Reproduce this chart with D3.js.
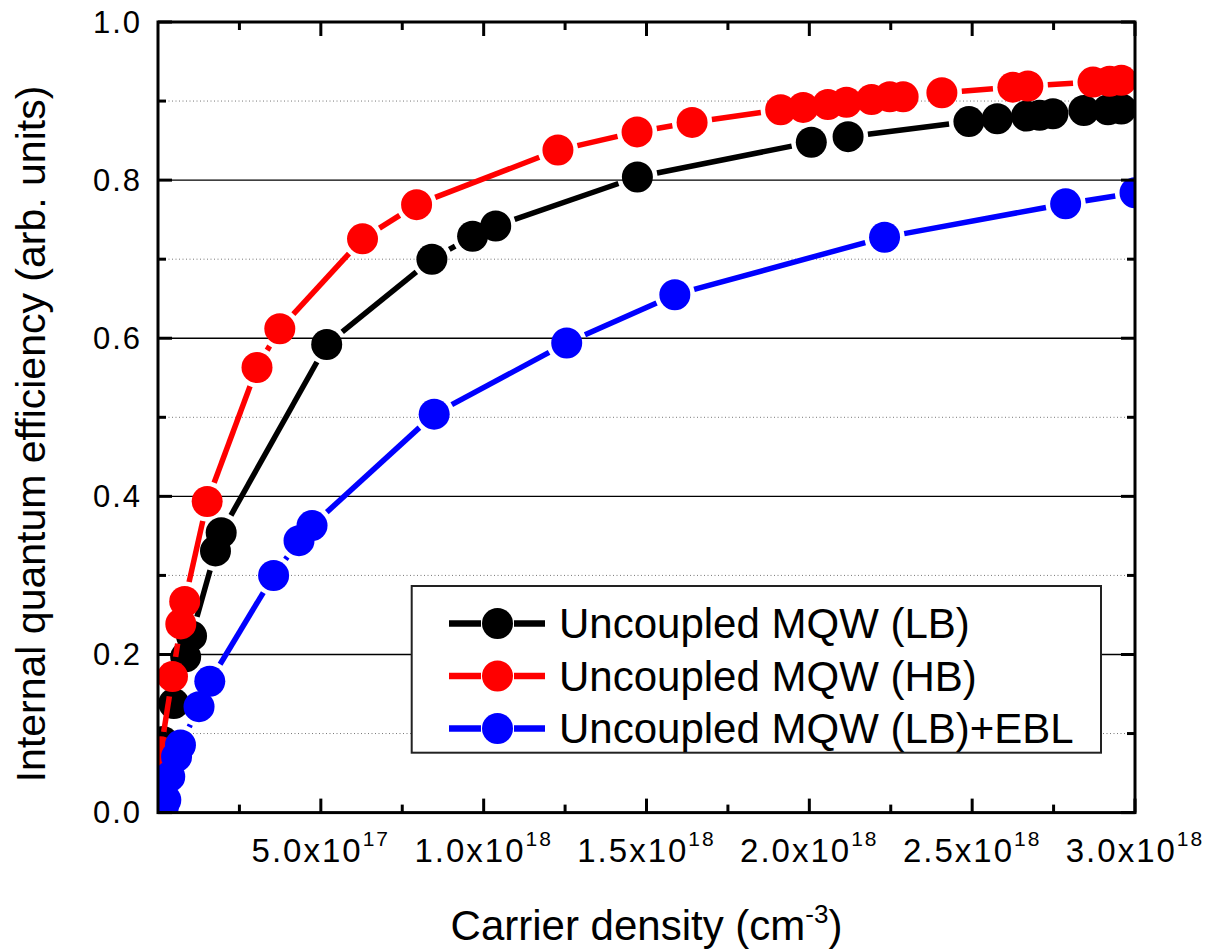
<!DOCTYPE html>
<html>
<head>
<meta charset="utf-8">
<title>Internal quantum efficiency vs carrier density</title>
<style type="text/css">
body { margin: 0; background: #fff; }
svg { display: block; font-family: "Liberation Sans", Arial, sans-serif; }
</style>
<script src="https://cdn.jsdelivr.net/npm/d3@7/dist/d3.min.js"></script>
</head>
<body>
<script type="text/javascript">
// carrier density in units of 1e18 cm^-3, IQE in arb. units
var lbX  = [0.015, 0.0485, 0.085, 0.103, 0.1765, 0.194, 0.518, 0.841, 0.966, 1.037, 1.472, 2.006, 2.119, 2.490, 2.577, 2.667, 2.707, 2.748, 2.843, 2.917, 2.958];
var lbY  = [0.090, 0.138, 0.197, 0.2235, 0.331, 0.354, 0.592, 0.700, 0.729, 0.742, 0.804, 0.848, 0.855, 0.874, 0.8776, 0.881, 0.882, 0.884, 0.888, 0.889, 0.890];
var hbX  = [0.008, 0.0445, 0.070, 0.082, 0.151, 0.304, 0.374, 0.628, 0.794, 1.228, 1.471, 1.640, 1.912, 1.981, 2.057, 2.114, 2.191, 2.247, 2.288, 2.407, 2.625, 2.671, 2.871, 2.922, 2.958];
var hbY  = [0.077, 0.172, 0.2387, 0.267, 0.3935, 0.563, 0.612, 0.7257, 0.769, 0.838, 0.861, 0.873, 0.889, 0.892, 0.8957, 0.8986, 0.902, 0.9054, 0.9054, 0.9105, 0.9176, 0.919, 0.924, 0.925, 0.9263];
var eblX = [0.016, 0.024, 0.036, 0.057, 0.069, 0.126, 0.159, 0.355, 0.433, 0.473, 0.848, 1.255, 1.587, 2.231, 2.787, 3.0];
var eblY = [0.006, 0.016, 0.0455, 0.0708, 0.0856, 0.134, 0.166, 0.300, 0.344, 0.363, 0.504, 0.594, 0.655, 0.7277, 0.770, 0.784];

var seriesNames  = ["Uncoupled MQW (LB)", "Uncoupled MQW (HB)", "Uncoupled MQW (LB)+EBL"];
var seriesColors = ["#000000", "#ff0000", "#0000ff"];

var xMajor = [0.5, 1.0, 1.5, 2.0, 2.5, 3.0];
var xMinor = [0.25, 0.75, 1.25, 1.75, 2.25, 2.75];
var yMajor = [0.0, 0.2, 0.4, 0.6, 0.8, 1.0];
var yMinor = [0.1, 0.3, 0.5, 0.7, 0.9];

var W = 1212, H = 951;
var pLeft = 158, pRight = 1135, pTop = 22, pBottom = 812.6;
var R = 15.5;		// marker radius
var GAP = 20;		// line stops this far from marker centre

var x = d3.scaleLinear().domain([0, 3.0]).range([pLeft, pRight]);
var y = d3.scaleLinear().domain([0, 1.0]).range([pBottom, pTop]);

var svg = d3.select("body").append("svg")
	.attr("width", W)
	.attr("height", H);

svg.append("defs").append("clipPath").attr("id", "plotclip")
	.append("rect")
	.attr("x", pLeft).attr("y", pTop)
	.attr("width", pRight - pLeft).attr("height", pBottom - pTop);

// grid
svg.append("g").selectAll("line").data(yMinor).join("line")
	.attr("x1", pLeft).attr("x2", pRight)
	.attr("y1", d => y(d)).attr("y2", d => y(d))
	.attr("stroke", "#777").attr("stroke-width", 1)
	.attr("stroke-dasharray", "1,2.5");
svg.append("g").selectAll("line").data(yMajor.filter(d => d > 0 && d < 1)).join("line")
	.attr("x1", pLeft).attr("x2", pRight)
	.attr("y1", d => y(d)).attr("y2", d => y(d))
	.attr("stroke", "#000").attr("stroke-width", 1.3);

// series
var plot = svg.append("g").attr("clip-path", "url(#plotclip)");
var allX = [lbX, hbX, eblX], allY = [lbY, hbY, eblY];

allX.forEach(function(xs, s) {
	var pts = xs.map((v, i) => [x(v), y(allY[s][i])]);
	var segs = [];
	for (var i = 0; i < pts.length - 1; i++) {
		var a = pts[i], b = pts[i + 1];
		var dx = b[0] - a[0], dy = b[1] - a[1];
		var len = Math.sqrt(dx * dx + dy * dy);
		if (len <= 2 * GAP) continue;
		var ux = dx / len, uy = dy / len;
		segs.push([a[0] + ux * GAP, a[1] + uy * GAP, b[0] - ux * GAP, b[1] - uy * GAP]);
	}
	var g = plot.append("g");
	g.selectAll("line").data(segs).join("line")
		.attr("x1", d => d[0]).attr("y1", d => d[1])
		.attr("x2", d => d[2]).attr("y2", d => d[3])
		.attr("stroke", seriesColors[s]).attr("stroke-width", 5.5);
	g.selectAll("circle").data(pts).join("circle")
		.attr("cx", d => d[0]).attr("cy", d => d[1]).attr("r", R)
		.attr("fill", seriesColors[s]);
});

// frame and ticks
svg.append("rect")
	.attr("x", pLeft).attr("y", pTop)
	.attr("width", pRight - pLeft).attr("height", pBottom - pTop)
	.attr("fill", "none").attr("stroke", "#000").attr("stroke-width", 3);

var ticks = svg.append("g").attr("stroke", "#000").attr("stroke-width", 3);
function xTicks(vals, len) {
	vals.forEach(function(v) {
		ticks.append("line").attr("x1", x(v)).attr("x2", x(v)).attr("y1", pBottom).attr("y2", pBottom - len);
		ticks.append("line").attr("x1", x(v)).attr("x2", x(v)).attr("y1", pTop).attr("y2", pTop + len);
	});
}
function yTicks(vals, len) {
	vals.forEach(function(v) {
		ticks.append("line").attr("y1", y(v)).attr("y2", y(v)).attr("x1", pLeft).attr("x2", pLeft + len);
		ticks.append("line").attr("y1", y(v)).attr("y2", y(v)).attr("x1", pRight).attr("x2", pRight - len);
	});
}
xTicks(xMajor, 14); xTicks(xMinor, 8);
yTicks(yMajor, 14); yTicks(yMinor, 8);

// y tick labels
svg.append("g").selectAll("text").data(yMajor).join("text")
	.attr("x", 142).attr("y", d => y(d))
	.attr("text-anchor", "end").attr("dominant-baseline", "central")
	.attr("font-size", 31).attr("letter-spacing", 2)
	.text(d => d.toFixed(1));

// x tick labels  a.bx10^n
var xl = svg.append("g").selectAll("text").data(xMajor).join("text")
	.attr("x", d => x(d)).attr("y", 862)
	.attr("text-anchor", "middle")
	.attr("font-size", 33).attr("letter-spacing", 2);
xl.each(function(d) {
	var val = d * 1e18;
	var e = Math.floor(Math.log10(val) + 1e-9);
	var m = val / Math.pow(10, e);
	var t = d3.select(this);
	t.append("tspan").text(m.toFixed(1) + "x10");
	t.append("tspan").attr("dy", -16).attr("font-size", 21).text(e);
});

// axis titles
var xt = svg.append("text")
	.attr("x", (pLeft + pRight) / 2).attr("y", 940)
	.attr("text-anchor", "middle").attr("font-size", 42);
xt.append("tspan").text("Carrier density (cm");
xt.append("tspan").attr("dy", -17).attr("font-size", 26).text("-3");
xt.append("tspan").attr("dy", 17).text(")");

svg.append("text")
	.attr("transform", "translate(45," + 434 + ") rotate(-90)")
	.attr("text-anchor", "middle").attr("font-size", 41)
	.text("Internal quantum efficiency (arb. units)");

// legend
var lg = svg.append("g");
lg.append("rect")
	.attr("x", 411.7).attr("y", 586)
	.attr("width", 1101 - 411.7).attr("height", 752.7 - 586)
	.attr("fill", "#fff").attr("stroke", "#222").attr("stroke-width", 2);
seriesNames.forEach(function(name, i) {
	var cy = 623.5 + i * 52.5;
	lg.append("line").attr("x1", 449).attr("x2", 481).attr("y1", cy).attr("y2", cy)
		.attr("stroke", seriesColors[i]).attr("stroke-width", 6.5);
	lg.append("line").attr("x1", 514).attr("x2", 545).attr("y1", cy).attr("y2", cy)
		.attr("stroke", seriesColors[i]).attr("stroke-width", 6.5);
	lg.append("circle").attr("cx", 497.5).attr("cy", cy).attr("r", R)
		.attr("fill", seriesColors[i]);
	lg.append("text").attr("x", 559).attr("y", cy)
		.attr("dominant-baseline", "central").attr("font-size", 42)
		.text(name);
});
</script>
</body>
</html>
